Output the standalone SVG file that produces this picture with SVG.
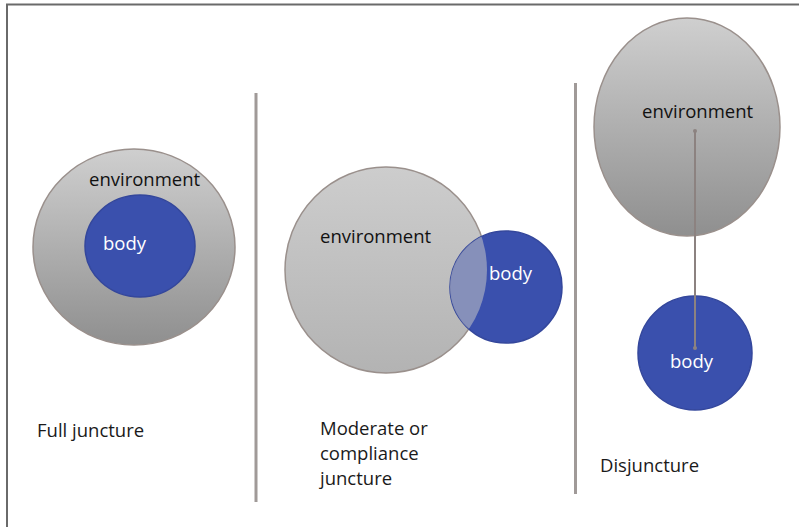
<svg xmlns="http://www.w3.org/2000/svg" width="799" height="527" viewBox="0 0 799 527">
  <defs>
    <linearGradient id="envGrad" x1="0" y1="0" x2="0" y2="1">
      <stop offset="0" stop-color="#cfcfcf"/>
      <stop offset="1" stop-color="#8f8f8f"/>
    </linearGradient>
    <linearGradient id="envGradLight" x1="0" y1="0" x2="0" y2="1">
      <stop offset="0" stop-color="#cdcdcd"/>
      <stop offset="1" stop-color="#b3b3b3"/>
    </linearGradient>
    <clipPath id="midBodyClip">
      <circle cx="506" cy="287" r="56"/>
    </clipPath>
  </defs>
  <style>
    .env { stroke: #9a908c; stroke-width: 1.5; }
    .body { fill: #3a50ad; stroke: #34479c; stroke-width: 1.5; }
    .lbl { font-family: "Open Sans", "Noto Sans", sans-serif; font-size: 18.5px; fill: #111111; }
    .bodylbl { font-family: "Open Sans", "Noto Sans", sans-serif; font-size: 18.5px; fill: #ffffff; }
    .cap { font-family: "Open Sans", "Noto Sans", sans-serif; font-size: 18.5px; fill: #1a1a1a; }
    .divider { stroke: #a09a98; stroke-width: 3; }
    .frame { stroke: #6a6a6a; stroke-width: 2; fill: none; }
    .link { stroke: #8c8280; stroke-width: 2; }
  </style>

  <rect width="799" height="527" fill="#ffffff"/>

  <!-- frame: top and left edges only -->
  <path class="frame" d="M7 527 V4.5 H799"/>

  <!-- panel dividers -->
  <line class="divider" x1="256" y1="93" x2="256" y2="502"/>
  <line class="divider" x1="575.5" y1="83" x2="575.5" y2="494"/>

  <!-- Full juncture -->
  <g id="full-env">
    <ellipse class="env" cx="134" cy="247" rx="101" ry="98" fill="url(#envGrad)"/>
    <text class="lbl" x="89" y="186">environment</text>
  </g>
  <g id="full-body">
    <ellipse class="body" cx="140" cy="246" rx="55" ry="51"/>
    <text class="bodylbl" x="103" y="250">body</text>
  </g>
  <text class="cap" x="37" y="437">Full juncture</text>

  <!-- Moderate or compliance juncture -->
  <g id="mid-env">
    <ellipse class="env" cx="386" cy="270" rx="101" ry="103" fill="url(#envGradLight)"/>
    <text class="lbl" x="320" y="243">environment</text>
  </g>
  <g id="mid-body">
    <circle class="body" cx="506" cy="287" r="56"/>
    <ellipse cx="386" cy="270" rx="101" ry="103" fill="#c4c4c4" opacity="0.55" clip-path="url(#midBodyClip)"/>
    <text class="bodylbl" x="489" y="280">body</text>
  </g>
  <text class="cap" x="320" y="435">Moderate or</text>
  <text class="cap" x="320" y="460">compliance</text>
  <text class="cap" x="320" y="485">juncture</text>

  <!-- Disjuncture -->
  <g id="dis-env">
    <ellipse class="env" cx="687" cy="127" rx="93" ry="109" fill="url(#envGrad)"/>
    <text class="lbl" x="642" y="118">environment</text>
  </g>
  <g id="dis-body">
    <circle class="body" cx="695" cy="353" r="57"/>
    <text class="bodylbl" x="670" y="368">body</text>
  </g>
  <g id="connectors">
    <line class="link" x1="695" y1="131" x2="695" y2="348"/>
    <circle cx="695" cy="131" r="2" fill="#8c8280"/>
    <circle cx="695" cy="348" r="2" fill="#8c8280"/>
  </g>
  <text class="cap" x="600" y="472">Disjuncture</text>
</svg>
